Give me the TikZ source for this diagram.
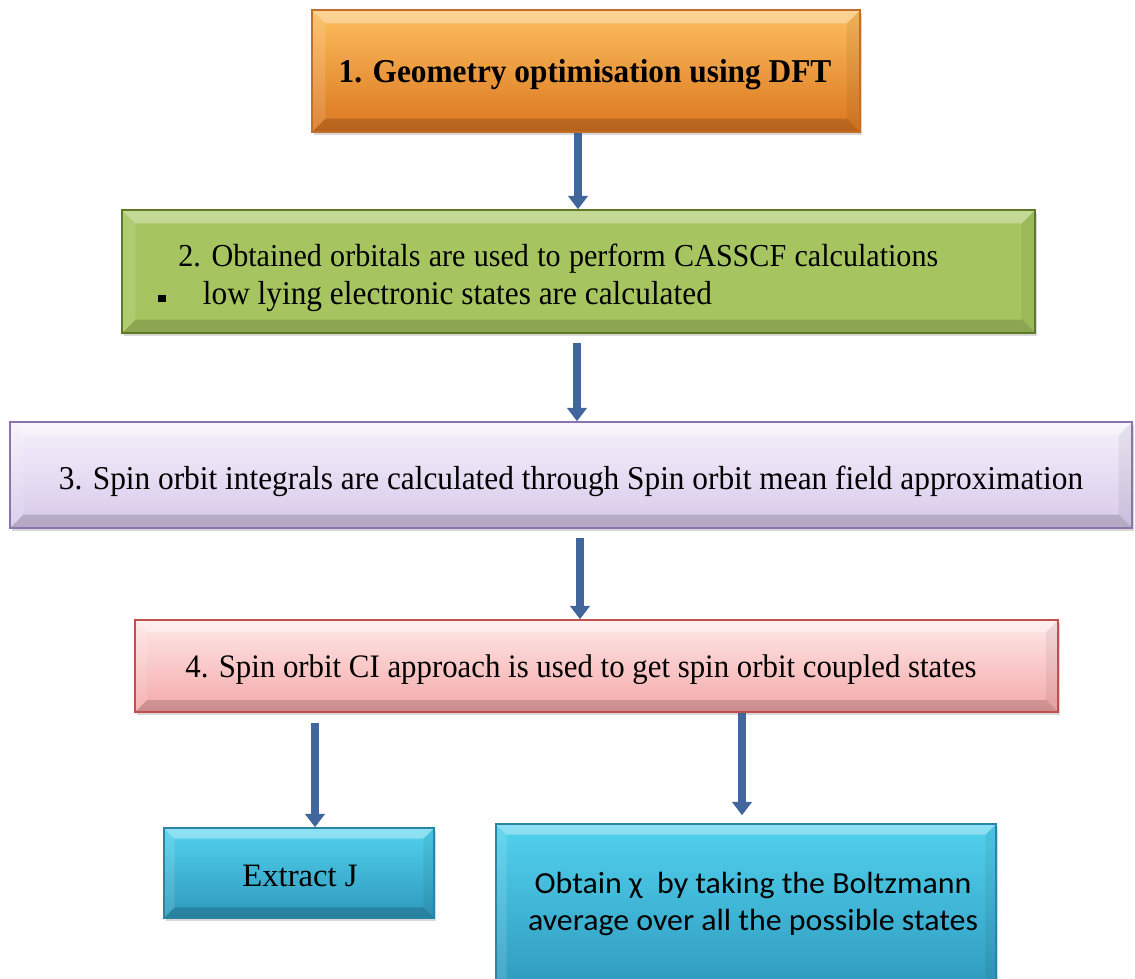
\documentclass[tikz,border=0pt]{standalone}
\usepackage{fontspec}
\setmainfont{Liberation Serif}[FakeStretch=0.94]
\newfontfamily\plainserif{Liberation Serif}
\newfontfamily\calib{Carlito}[FakeStretch=1.04]
\usetikzlibrary{arrows.meta,shadows}
\definecolor{orTop}{HTML}{FDBE5E}
\definecolor{orBot}{HTML}{DB7620}
\definecolor{orLine}{HTML}{C0702A}
\definecolor{grFill}{HTML}{A6C560}
\definecolor{grLine}{HTML}{5F7A25}
\definecolor{puTop}{HTML}{F6F1FC}
\definecolor{puBot}{HTML}{D7C9EA}
\definecolor{puLine}{HTML}{8B73B0}
\definecolor{piTop}{HTML}{FFE8E8}
\definecolor{piBot}{HTML}{F4A8A8}
\definecolor{piLine}{HTML}{C0504D}
\definecolor{blTop}{HTML}{52D2EE}
\definecolor{blBot}{HTML}{2E98BC}
\definecolor{blLine}{HTML}{2A84A3}
\definecolor{arrCol}{HTML}{41669B}
\begin{document}
\begin{tikzpicture}[x=0.75pt,y=-0.75pt,
  bevel/.style={path picture={
    \coordinate (bsw) at (path picture bounding box.south west);
    \coordinate (bne) at (path picture bounding box.north east);
    \coordinate (bnw) at (path picture bounding box.north west);
    \coordinate (bse) at (path picture bounding box.south east);
    \fill[white,opacity=0.35] (bnw) -- (bne) -- ([xshift=-#1,yshift=-#1]bne) -- ([xshift=#1,yshift=-#1]bnw) -- cycle;
    \fill[white,opacity=0.12] (bnw) -- (bsw) -- ([xshift=#1,yshift=#1]bsw) -- ([xshift=#1,yshift=-#1]bnw) -- cycle;
    \fill[black,opacity=0.06] (bne) -- (bse) -- ([xshift=-#1,yshift=#1]bse) -- ([xshift=-#1,yshift=-#1]bne) -- cycle;
    \fill[black,opacity=0.16] (bsw) -- (bse) -- ([xshift=-#1,yshift=#1]bse) -- ([xshift=#1,yshift=#1]bsw) -- cycle;
  }},
  box/.style={draw, line width=1.2pt, inner sep=0pt, align=center,
    drop shadow={opacity=0.3, shadow xshift=1.5pt, shadow yshift=-2.5pt}},
  arr/.style={draw=arrCol, line width=5.8pt, -{Triangle[width=14.5pt,length=10pt]}},
  txt/.style={font=\fontsize{25}{28.5}\selectfont},
  lbl/.style={inner sep=0pt, align=center}
]
\clip (0,0) rectangle (1135,978);
\fill[white] (0,0) rectangle (1135,978);

\node[box, bevel=10pt, draw=orLine, top color=orTop, bottom color=orBot,
  minimum width=411pt, minimum height=91.5pt]
  (b1) at (586,71) {};
\node[lbl, font=\fontsize{25}{28.5}\selectfont\bfseries] (t1) at (585,75) {1. Geometry optimisation using DFT};

\node[box, bevel=10pt, draw=grLine, fill=grFill,
  minimum width=684.75pt, minimum height=92.25pt]
  (b2) at (578.5,271.5) {};
\node[lbl, anchor=west, align=left, txt] (t2) at (178,278)
  {{\fontsize{24}{28.5}\selectfont\spaceskip=0.26em plus 0.05em\relax 2. Obtained orbitals are used to perform CASSCF calculations}\\
  \hspace*{-15pt}\rule[2pt]{5.5pt}{5.5pt}\hspace{28pt}low lying electronic states are calculated};

\node[box, bevel=10pt, draw=puLine, top color=puTop, bottom color=puBot,
  minimum width=841.5pt, minimum height=79.5pt]
  (b3) at (571,475) {};
\node[lbl, txt] (t3) at (571,481) {3. Spin orbit integrals are calculated through Spin orbit mean field approximation};

\node[box, bevel=9pt, draw=piLine, top color=piTop, bottom color=piBot,
  minimum width=692.25pt, minimum height=69pt]
  (b4) at (596.5,666) {};
\node[lbl, font=\fontsize{24.6}{28.5}\selectfont] (t4) at (581,670) {4. Spin orbit CI approach is used to get spin orbit coupled states};

\node[box, bevel=8pt, draw=blLine, top color=blTop, bottom color=blBot,
  minimum width=202.5pt, minimum height=67.5pt]
  (b5) at (299,873) {};
\node[lbl, font=\plainserif\fontsize{24.5}{28}\selectfont] (t5) at (300,876) {Extract J};

\node[box, bevel=8pt, draw=blLine, top color=blTop, bottom color=blBot,
  minimum width=375pt, minimum height=127.5pt]
  (b6) at (746,909) {};
\node[lbl, font=\calib\fontsize{23}{27.75}\selectfont] (t6) at (753,904)
  {Obtain χ~ by taking the Boltzmann\\average over all the possible states};

\draw[arr] (b1.south -| 578,0) -- (b2.north -| 578,0);
\draw[arr, shorten <=7pt] (b2.south -| 577,0) -- (b3.north -| 577,0);
\draw[arr, shorten <=7pt] (b3.south -| 580,0) -- (b4.north -| 580,0);
\draw[arr, shorten <=8pt] (b4.south -| 315,0) -- (b5.north -| 315,0);
\draw[arr, shorten >=6pt] (b4.south -| 742,0) -- (b6.north -| 742,0);
\end{tikzpicture}
\end{document}
